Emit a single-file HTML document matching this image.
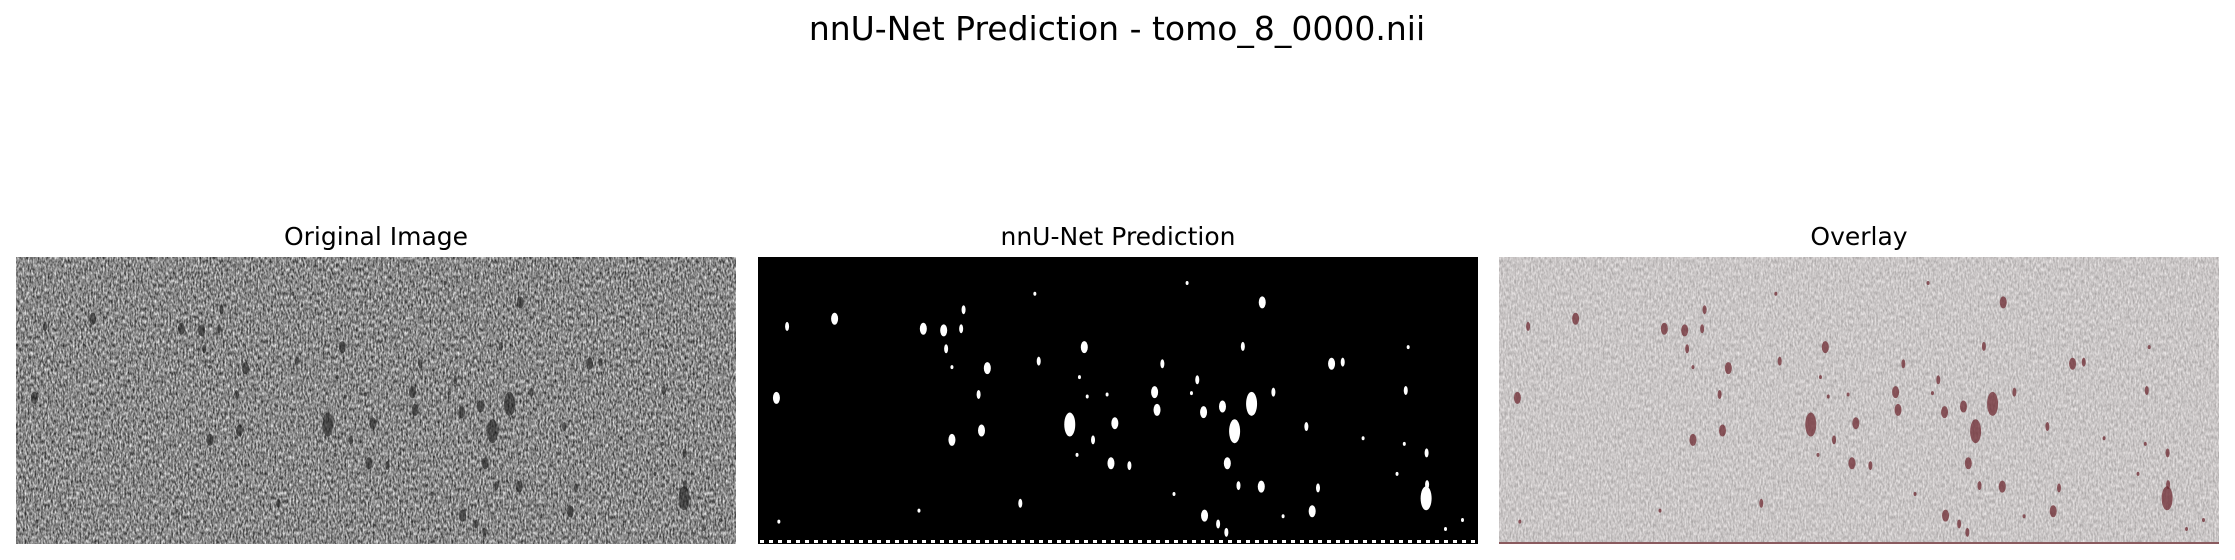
<!DOCTYPE html>
<html><head><meta charset="utf-8"><style>
html,body{margin:0;padding:0;background:#fff;}
svg{display:block;font-family:"DejaVu Sans","Liberation Sans",sans-serif;}
</style></head><body>
<svg id="fig" width="2235" height="560" viewBox="0 0 2235 560">
<defs>
<filter id="noiseDark" x="0" y="0" width="100%" height="100%" color-interpolation-filters="sRGB">
<feTurbulence type="fractalNoise" baseFrequency="0.6 0.25" numOctaves="2" seed="3" result="t"/>
<feColorMatrix in="t" type="matrix" values="1.15 0 0 0 -0.04  1.15 0 0 0 -0.04  1.15 0 0 0 -0.04  0 0 0 0 1"/>
</filter>
<filter id="noiseLight" x="0" y="0" width="100%" height="100%" color-interpolation-filters="sRGB">
<feTurbulence type="fractalNoise" baseFrequency="0.6 0.25" numOctaves="2" seed="3" result="t"/>
<feColorMatrix in="t" type="matrix" values="0.4 0 0 0 0.59  0.4 0 0 0 0.575  0.4 0 0 0 0.575  0 0 0 0 1"/>
</filter>
<clipPath id="c1"><rect x="16" y="257" width="720" height="287"/></clipPath>
<clipPath id="c3"><rect x="1499" y="257" width="720" height="287"/></clipPath>
</defs>
<text x="1117" y="40" text-anchor="middle" font-size="33" fill="#000">nnU-Net Prediction - tomo_8_0000.nii</text>
<text x="376" y="245" text-anchor="middle" font-size="25" fill="#000">Original Image</text>
<text x="1118" y="245" text-anchor="middle" font-size="25" fill="#000">nnU-Net Prediction</text>
<text x="1859" y="245" text-anchor="middle" font-size="25" fill="#000">Overlay</text>
<g clip-path="url(#c1)">
<rect x="16" y="257" width="720" height="287" fill="#888" filter="url(#noiseDark)"/>
<g id="g1"></g>
</g>
<g>
<rect x="758" y="257" width="720" height="287" fill="#000"/>
<g id="g2"></g>
</g>
<g clip-path="url(#c3)">
<rect x="1499" y="257" width="720" height="287" fill="#c8c5c5" filter="url(#noiseLight)"/>
<rect x="1499" y="542" width="720" height="2" fill="#8a5a5e"/>
<g id="g3"></g>
</g>
</svg>
<script>
const blobU=[97,195,378,420,456,461,425,510,437,492,498,437,75,616,608,710,700,680,728,773,765,803,695,578,369,80,922,1077,1037,871,943,855,860,956,995,1055,1100,1020,1168,1220,1243,1378,1373,1416,1417,1415,1005,1028,1075,1192,1180,958,986,1003,1120,1355,1370,1490,1455,895,931,757,716,1285];
const blobV=[378,355,385,390,385,328,445,503,500,582,690,718,592,482,280,440,530,672,718,668,788,795,763,908,930,963,248,306,438,490,538,575,628,635,618,610,575,692,678,490,485,440,570,757,852,893,788,855,858,862,932,945,970,995,947,820,730,958,985,880,578,582,588,713];
const blobSize=["s","m","m","m","s","s","s","m","xs","s","m","m","m","s","xs","m","xs","L","s","m","m","s","xs","s","xs","xs","xs","m","s","s","s","m","m","m","m","L","s","L","s","m","s","xs","s","s","s","L","m","s","m","s","m","m","s","s","xs","xs","xs","xs","xs","xs","xs","xs","xs","xs"];
const SZ={L:[11,24],m:[7,12],s:[4,9],xs:[3,4]};
const panels=[{x:16,g:'g1',fill:'#1a1a1a',op:0.6},{x:758,g:'g2',fill:'#fff',op:1},{x:1499,g:'g3',fill:'#6e2a32',op:0.75}];
const NS='http://www.w3.org/2000/svg';
const px=(x0,u)=>x0+(u-37)/1485*720;
const py=v=>257+(v-170)/860*287;
panels.forEach(p=>{
  const g=document.getElementById(p.g);
  for(let i=0;i<blobU.length;i++){
    const e=document.createElementNS(NS,'ellipse');
    const s=SZ[blobSize[i]];
    e.setAttribute('cx',px(p.x,blobU[i]));
    e.setAttribute('cy',py(blobV[i]));
    e.setAttribute('rx',s[0]/2);
    e.setAttribute('ry',s[1]/2);
    e.setAttribute('fill',p.fill);
    e.setAttribute('opacity',p.op);
    
    
    g.appendChild(e);
  }
});
const g2=document.getElementById('g2');
for(let x=760;x<1476;x+=9){
  const r=document.createElementNS(NS,'rect');
  r.setAttribute('x',x);r.setAttribute('y',540);
  r.setAttribute('width',(x*7)%9+3);r.setAttribute('height',(x%3)+2);
  r.setAttribute('fill','#fff');
  
  
  g2.appendChild(r);
}
</script>
</body></html>
